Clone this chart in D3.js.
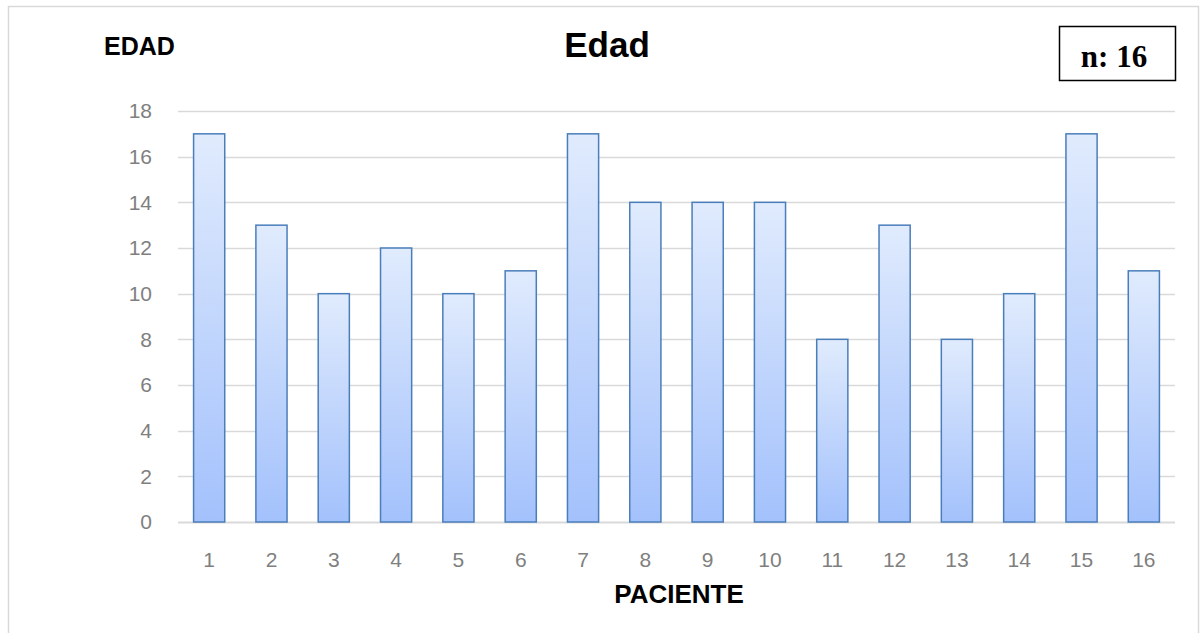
<!DOCTYPE html>
<html>
<head>
<meta charset="utf-8">
<script src="https://cdn.jsdelivr.net/npm/d3@7"></script>
<style>
  html, body { margin: 0; padding: 0; background: #fff; }
  svg { display: block; }
</style>
</head>
<body>
<script>
// Patient ages
const pacientes = ["1","2","3","4","5","6","7","8","9","10","11","12","13","14","15","16"];
const edades = [17, 13, 10, 12, 10, 11, 17, 14, 14, 14, 8, 13, 8, 10, 17, 11];
const yTicks = [0, 2, 4, 6, 8, 10, 12, 14, 16, 18];

const W = 1201, H = 633;
const plot = { left: 178, right: 1175, top: 111, bottom: 522 };
const sans = "Liberation Sans, Arial, sans-serif";

const svg = d3.select("body").append("svg")
  .attr("width", W).attr("height", H);

// Gradient fill for the bars
const defs = svg.append("defs");
const grad = defs.append("linearGradient")
  .attr("id", "barGrad").attr("x1", 0).attr("y1", 0).attr("x2", 0).attr("y2", 1);
grad.append("stop").attr("offset", "0%").attr("stop-color", "#e0ebfd");
grad.append("stop").attr("offset", "100%").attr("stop-color", "#a3c1fc");

// Outer chart frame
svg.append("rect")
  .attr("x", 8.5).attr("y", 6.5)
  .attr("width", 1190).attr("height", 660)
  .attr("fill", "#fff").attr("stroke", "#d9d9d9").attr("stroke-width", 1.5);

const x = d3.scaleBand()
  .domain(pacientes)
  .range([plot.left, plot.right])
  .paddingInner(0.5).paddingOuter(0.25);

const y = d3.scaleLinear()
  .domain([0, 18])
  .range([plot.bottom, plot.top]);

// Horizontal gridlines
svg.append("g")
  .selectAll("line")
  .data(yTicks)
  .join("line")
  .attr("x1", plot.left).attr("x2", plot.right)
  .attr("y1", d => Math.round(y(d)) + 0.5).attr("y2", d => Math.round(y(d)) + 0.5)
  .attr("stroke", "#d9d9d9").attr("stroke-width", d => d === 0 ? 2 : 1.5);

// Y axis labels
const yAxis = svg.append("g")
  .attr("transform", `translate(${plot.left - 26},0)`)
  .call(d3.axisLeft(y).tickValues(yTicks).tickSize(0).tickPadding(0));
yAxis.select(".domain").remove();
yAxis.selectAll("text")
  .attr("font-family", sans)
  .attr("font-size", 21).attr("fill", "#7f7f7f");

// X axis labels
const xAxis = svg.append("g")
  .attr("transform", `translate(0,${plot.bottom + 45})`)
  .call(d3.axisBottom(x).tickSize(0).tickPadding(0));
xAxis.select(".domain").remove();
xAxis.selectAll("text")
  .attr("font-family", sans)
  .attr("font-size", 21).attr("fill", "#7f7f7f")
  .attr("dy", 0);

// Bars
svg.append("g")
  .selectAll("rect")
  .data(edades)
  .join("rect")
  .attr("x", (d, i) => x(pacientes[i]))
  .attr("y", d => y(d))
  .attr("width", x.bandwidth())
  .attr("height", d => plot.bottom - y(d))
  .attr("fill", "url(#barGrad)")
  .attr("stroke", "#4a7ebb").attr("stroke-width", 1.5);

// Titles
svg.append("text")
  .attr("x", 607).attr("y", 57)
  .attr("text-anchor", "middle")
  .attr("font-family", sans)
  .attr("font-size", 35).attr("font-weight", "bold").attr("fill", "#000")
  .text("Edad");

svg.append("text")
  .attr("x", 104).attr("y", 55)
  .attr("font-family", sans)
  .attr("font-size", 25).attr("font-weight", "bold").attr("fill", "#000")
  .text("EDAD");

svg.append("text")
  .attr("x", 679).attr("y", 603)
  .attr("text-anchor", "middle")
  .attr("font-family", sans)
  .attr("font-size", 26).attr("font-weight", "bold").attr("fill", "#000")
  .text("PACIENTE");

// Sample size box
svg.append("rect")
  .attr("x", 1059.5).attr("y", 26.5)
  .attr("width", 116).attr("height", 54)
  .attr("fill", "#fff").attr("stroke", "#000").attr("stroke-width", 1.5);
svg.append("text")
  .attr("x", 1114).attr("y", 67)
  .attr("text-anchor", "middle")
  .attr("font-family", "Liberation Serif, Times New Roman, serif")
  .attr("font-size", 31).attr("font-weight", "bold").attr("fill", "#000")
  .text("n: 16");
</script>
</body>
</html>
